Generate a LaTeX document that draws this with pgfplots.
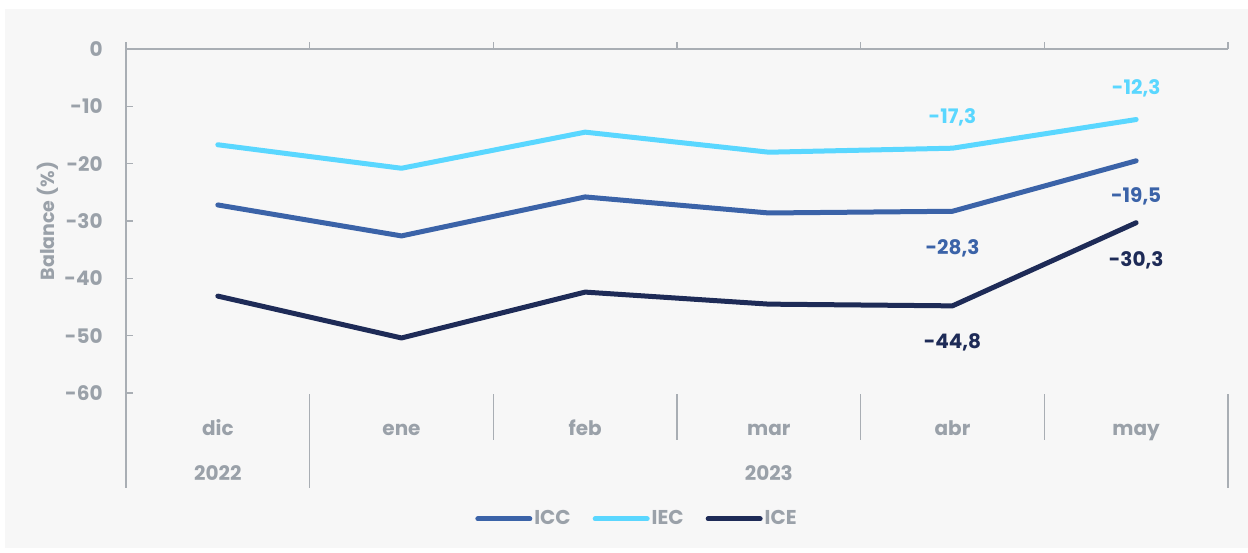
\documentclass[border=0pt]{standalone}
\usepackage{fontspec}
\setmainfont{Poppins}
\usepackage{pgfplots}
\pgfplotsset{compat=1.18}
\definecolor{bg}{HTML}{F7F7F7}
\definecolor{txt}{HTML}{9AA1A9}
\definecolor{axl}{HTML}{A9AEB4}
\definecolor{icc}{HTML}{3B63A8}
\definecolor{iec}{HTML}{5AD7FF}
\definecolor{ice}{HTML}{1E2B57}
\newcommand{\lblfont}{\bfseries\fontsize{10}{12}\selectfont}
\begin{document}
\begin{tikzpicture}
\path[use as bounding box] (0,0) rectangle (624pt,276pt);
\fill[bg] (2.5pt,2pt) rectangle (624pt,271.5pt);
\begin{axis}[
  at={(63pt,79.5pt)}, anchor=south west,
  scale only axis, width=551pt, height=172pt,
  xmin=0, xmax=6, ymin=-60, ymax=0,
  clip=false,
  axis line style={draw=none},
  major tick length=0pt,
  xtick={0.5,1.5,2.5,3.5,4.5,5.5},
  xticklabels={dic,ene,feb,mar,abr,may},
  ytick={-60,-50,-40,-30,-20,-10,0},
  yticklabels={-60,-50,-40,-30,-20,-10,0},
  ticklabel style={font=\lblfont, text=txt},
  xticklabel style={anchor=base, yshift=-21pt},
  yticklabel style={anchor=east, inner sep=0pt, xshift=-11.5pt},
  legend style={at={(0.4637,-0.366)}, anchor=center, draw=none, fill=none,
    legend columns=-1, font=\lblfont, text=txt,
    nodes={inner sep=1pt},
    /tikz/every even column/.append style={column sep=10pt}},
  legend image code/.code={\draw[#1, line cap=round] (0pt,0pt) -- (26pt,0pt);},
  every axis plot/.append style={line width=2.5pt, line cap=round, line join=round},
]
% axis decorations
\draw[axl, line width=0.75pt] ([yshift=3.5pt]axis cs:0,0) -- ([yshift=-47.5pt]axis cs:0,-60);
\draw[axl, line width=0.75pt] (axis cs:0,0) -- (axis cs:6,0);
\pgfplotsinvokeforeach{1,...,6}{
  \draw[axl, line width=0.75pt] ([yshift=3.5pt]axis cs:#1,0) -- (axis cs:#1,0);
}
\pgfplotsinvokeforeach{-10,-20,-30,-40,-50,-60}{
  \draw[axl, line width=0.75pt] (axis cs:0,#1) -- ([xshift=3.5pt]axis cs:0,#1);
}
\pgfplotsinvokeforeach{2,3,4,5}{
  \draw[axl, line width=0.75pt] ([yshift=-0.5pt]axis cs:#1,-60) -- ([yshift=-23.5pt]axis cs:#1,-60);
}
\draw[axl, line width=0.75pt] ([yshift=-0.5pt]axis cs:1,-60) -- ([yshift=-47.5pt]axis cs:1,-60);
\draw[axl, line width=0.75pt] ([yshift=-0.5pt]axis cs:6,-60) -- ([yshift=-47.5pt]axis cs:6,-60);
\node[anchor=base, yshift=-43.5pt, font=\lblfont, text=txt] at (axis cs:0.5,-60) {2022};
\node[anchor=base, yshift=-43.5pt, font=\lblfont, text=txt] at (axis cs:3.5,-60) {2023};

\addplot[icc] coordinates {(0.5,-27.2) (1.5,-32.6) (2.5,-25.8) (3.5,-28.6) (4.5,-28.3) (5.5,-19.5)};
\addplot[iec] coordinates {(0.5,-16.7) (1.5,-20.8) (2.5,-14.5) (3.5,-18.0) (4.5,-17.3) (5.5,-12.3)};
\addplot[ice] coordinates {(0.5,-43.1) (1.5,-50.4) (2.5,-42.4) (3.5,-44.5) (4.5,-44.8) (5.5,-30.3)};
\legend{ICC,IEC,ICE}

\node[font=\lblfont, text=iec, yshift=15.5pt] at (axis cs:4.5,-17.3) {-17,3};
\node[font=\lblfont, text=iec, yshift=15.5pt] at (axis cs:5.5,-12.3) {-12,3};
\node[font=\lblfont, text=icc, yshift=-18.5pt] at (axis cs:4.5,-28.3) {-28,3};
\node[font=\lblfont, text=icc, yshift=-18pt] at (axis cs:5.5,-19.5) {-19,5};
\node[font=\lblfont, text=ice, yshift=-18pt] at (axis cs:4.5,-44.8) {-44,8};
\node[font=\lblfont, text=ice, yshift=-19pt] at (axis cs:5.5,-30.3) {-30,3};
\end{axis}
\node[rotate=90, font=\bfseries\fontsize{9.5}{11}\selectfont, text=txt] at (24pt,165.5pt) {Balance (\%)};
\end{tikzpicture}
\end{document}
